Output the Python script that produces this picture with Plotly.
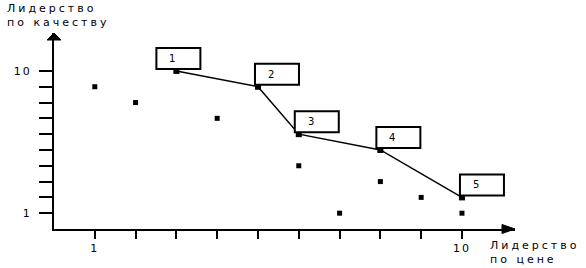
import plotly.graph_objects as go

# ---- data ----
line_x = [3, 5, 6, 8, 10]
line_y = [10, 9, 6, 5, 2]
line_labels = ["1", "2", "3", "4", "5"]
other_x = [1, 2, 4, 6, 8, 9, 7, 10]
other_y = [9, 8, 7, 4, 3, 2, 1, 1]
tick_vals = [1, 2, 3, 4, 5, 6, 7, 8, 9, 10]
tick_text = ["1", "", "", "", "", "", "", "", "", "10"]
x_title = "Лидерство<br>по цене"
y_title = "Лидерство<br>по качеству"

FONT = "DejaVu Sans"

def spaced(t, px=3):
    return "<br>".join(('<span style="letter-spacing: %dpx;">' % px) + p + "</span>"
                       if p else "" for p in t.split("<br>"))

fig = go.Figure()
fig.add_trace(go.Scatter(
    x=other_x, y=other_y, mode="markers",
    marker=dict(symbol="square", size=5, color="black"),
    showlegend=False, hoverinfo="skip"))
fig.add_trace(go.Scatter(
    x=line_x, y=line_y, mode="lines+markers",
    line=dict(color="black", width=1.5),
    marker=dict(symbol="square", size=6, color="black"),
    showlegend=False, hoverinfo="skip"))

# label boxes (pixel-sized, anchored to each point)
box_dx = [-20, -3, -4, -4, -2]
shapes = []
annotations = []
for i, (px, py, lab) in enumerate(zip(line_x, line_y, line_labels)):
    dx = box_dx[i]
    shapes.append(dict(
        type="rect", xref="x", yref="y",
        xsizemode="pixel", xanchor=px, x0=dx, x1=dx + 44,
        ysizemode="pixel", yanchor=py, y0=2, y1=23,
        line=dict(color="black", width=2), fillcolor="white", layer="above"))
    annotations.append(dict(
        x=px, y=py, xref="x", yref="y", text=lab, showarrow=False,
        xshift=dx + 16, yshift=12.5, xanchor="center", yanchor="middle",
        font=dict(family=FONT, size=10, color="black")))

# axis arrows
shapes.append(dict(type="path", xref="paper", yref="paper",
                   xsizemode="pixel", xanchor=1, ysizemode="pixel", yanchor=0,
                   path="M 0 0 L -13 4.5 L -13 -4.5 Z",
                   fillcolor="black", line=dict(color="black", width=1)))
shapes.append(dict(type="path", xref="paper", yref="paper",
                   xsizemode="pixel", xanchor=0, ysizemode="pixel", yanchor=1,
                   path="M 0 0 L -7 -7 L 7 -7 Z",
                   fillcolor="black", line=dict(color="black", width=1)))

# axis titles
annotations.append(dict(
    x=1, y=0, xref="paper", yref="paper", text=spaced(x_title),
    showarrow=False, xanchor="left", yanchor="top", align="left",
    xshift=-27, yshift=-8,
    font=dict(family=FONT, size=11, color="black")))
annotations.append(dict(
    x=0, y=1, xref="paper", yref="paper", text=spaced(y_title),
    showarrow=False, xanchor="left", yanchor="top", align="left",
    xshift=-49, yshift=33,
    font=dict(family=FONT, size=11, color="black")))

axis_common = dict(
    showgrid=False, zeroline=False, showline=True, linecolor="black",
    linewidth=2, ticks="outside", tickcolor="black", tickwidth=2,
    tickvals=tick_vals, ticktext=[spaced(t, 2) for t in tick_text],
    tickfont=dict(family=FONT, size=11, color="black"), fixedrange=True)

fig.update_layout(
    width=586, height=268,
    margin=dict(l=54, r=71, t=33, b=39),
    paper_bgcolor="white", plot_bgcolor="white",
    xaxis=dict(range=[0, 11.3], ticklen=8, **axis_common),
    yaxis=dict(range=[0, 12.4], ticklen=13, ticklabelstandoff=5, **axis_common),
    shapes=shapes, annotations=annotations,
)

fig.write_html("out.html")
